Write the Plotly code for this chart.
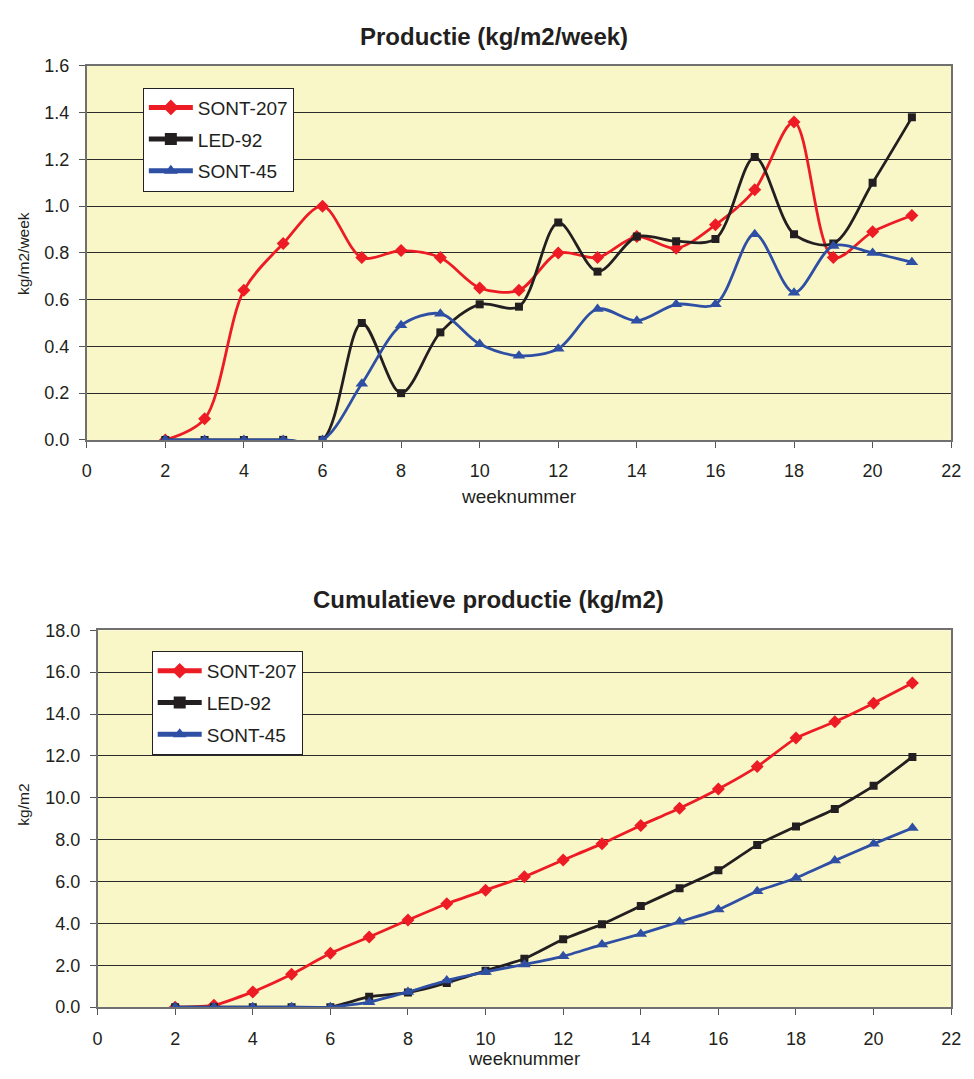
import plotly.graph_objects as go

# Week numbers
weeks = list(range(2, 22))

# Weekly production (kg/m2/week)
weekly_sont207 = [0.00, 0.09, 0.64, 0.84, 1.00, 0.78, 0.81, 0.78, 0.65, 0.64,
                  0.80, 0.78, 0.87, 0.82, 0.92, 1.07, 1.36, 0.78, 0.89, 0.96]
weekly_led92 = [0.00, 0.00, 0.00, 0.00, 0.00, 0.50, 0.20, 0.46, 0.58, 0.57,
                0.93, 0.72, 0.87, 0.85, 0.86, 1.21, 0.88, 0.84, 1.10, 1.38]
weekly_sont45 = [0.00, 0.00, 0.00, 0.00, 0.00, 0.24, 0.49, 0.54, 0.41, 0.36,
                 0.39, 0.56, 0.51, 0.58, 0.58, 0.88, 0.63, 0.83, 0.80, 0.76]

# Cumulative production (kg/m2)
cum_sont207 = [0.00, 0.09, 0.73, 1.57, 2.57, 3.35, 4.16, 4.94, 5.59, 6.23,
               7.03, 7.81, 8.68, 9.50, 10.42, 11.49, 12.85, 13.63, 14.52, 15.48]
cum_led92 = [0.00, 0.00, 0.00, 0.00, 0.00, 0.50, 0.70, 1.16, 1.74, 2.31,
             3.24, 3.96, 4.83, 5.68, 6.54, 7.75, 8.63, 9.47, 10.57, 11.95]
cum_sont45 = [0.00, 0.00, 0.00, 0.00, 0.00, 0.24, 0.73, 1.27, 1.68, 2.04,
              2.43, 2.99, 3.50, 4.08, 4.66, 5.54, 6.17, 7.00, 7.80, 8.56]

series_names = ["SONT-207", "LED-92", "SONT-45"]
colors = ["#ED1C24", "#231F20", "#2E4FA3"]
symbols = ["diamond", "square", "triangle-up"]
marker_sizes = [10, 8, 11]

FONT = "Liberation Sans, Arial, sans-serif"
TXT = "#231F20"
BG = "#F9F6C8"

fig = go.Figure()

weekly = [weekly_sont207, weekly_led92, weekly_sont45]
cumulative = [cum_sont207, cum_led92, cum_sont45]

for name, ys, c, s, ms in zip(series_names, weekly, colors, symbols, marker_sizes):
    fig.add_trace(go.Scatter(
        x=weeks, y=ys, name=name, mode="lines+markers",
        line=dict(color=c, width=2.8, shape="spline", smoothing=0.9),
        marker=dict(symbol=s, size=ms, color=c),
        xaxis="x", yaxis="y", legend="legend", legendgroup="a" + name,
    ))

for name, ys, c, s, ms in zip(series_names, cumulative, colors, symbols, marker_sizes):
    fig.add_trace(go.Scatter(
        x=weeks, y=ys, name=name, mode="lines+markers",
        line=dict(color=c, width=2.8, shape="spline", smoothing=0.5),
        marker=dict(symbol=s, size=ms, color=c),
        xaxis="x2", yaxis="y2", legend="legend2", legendgroup="b" + name,
    ))

W, H = 974, 1079


def px_x(p):
    return p / W


def px_y(p):
    return 1 - p / H


xcommon = dict(
    range=[0, 22], dtick=2, tick0=0, ticks="outside", ticklen=6, tickwidth=1,
    tickcolor="#555", showgrid=False, zeroline=False, showline=True,
    linecolor="#707070", linewidth=1.5, mirror=True,
    tickfont=dict(family=FONT, size=18, color=TXT), ticklabelstandoff=8,
)
ycommon = dict(
    ticks="outside", ticklen=6, tickwidth=1, tickcolor="#555",
    showgrid=True, gridcolor="#2a2a2a", gridwidth=1, zeroline=False,
    showline=True, linecolor="#707070", linewidth=1.5, mirror=True,
    tickfont=dict(family=FONT, size=18, color=TXT), ticklabelstandoff=6,
)

legend_common = dict(
    bgcolor="white", bordercolor="#222", borderwidth=1,
    font=dict(family=FONT, size=19, color=TXT),
    xanchor="left", yanchor="top", tracegroupgap=4,
    itemsizing="constant", itemwidth=44,
)


def text_note(text, x, y, size, angle=0):
    return dict(text=text, x=px_x(x), y=px_y(y), xref="paper", yref="paper",
                showarrow=False, textangle=angle, xanchor="center", yanchor="middle",
                font=dict(family=FONT, size=size, color=TXT))


fig.update_layout(
    width=W, height=H,
    margin=dict(l=0, r=0, t=0, b=0),
    paper_bgcolor="white", plot_bgcolor=BG,
    showlegend=True,
    xaxis=dict(domain=[px_x(83), px_x(961)], anchor="y", **xcommon),
    yaxis=dict(domain=[px_y(438), px_y(57)], anchor="x", range=[0, 1.6], dtick=0.2,
               tickformat=".1f", **ycommon),
    xaxis2=dict(domain=[px_x(94), px_x(961)], anchor="y2", **xcommon),
    yaxis2=dict(domain=[px_y(1016), px_y(632)], anchor="x2", range=[0, 18], dtick=2,
                tickformat=".1f", **ycommon),
    legend=dict(x=px_x(140), y=px_y(79), **legend_common),
    legend2=dict(x=px_x(149), y=px_y(653), **legend_common),
    annotations=[
        text_note("<b>Productie (kg/m2/week)</b>", 497, 27, 24),
        text_note("<b>Cumulatieve productie (kg/m2)</b>", 491, 601, 24),
        text_note("weeknummer", 522, 496, 19),
        text_note("weeknummer", 527, 1068, 18.5),
        text_note("kg/m2/week", 19, 248, 15.5, -90),
        text_note("kg/m2", 19, 810, 15.5, -90),
    ],
)

fig.write_html("out.html")
